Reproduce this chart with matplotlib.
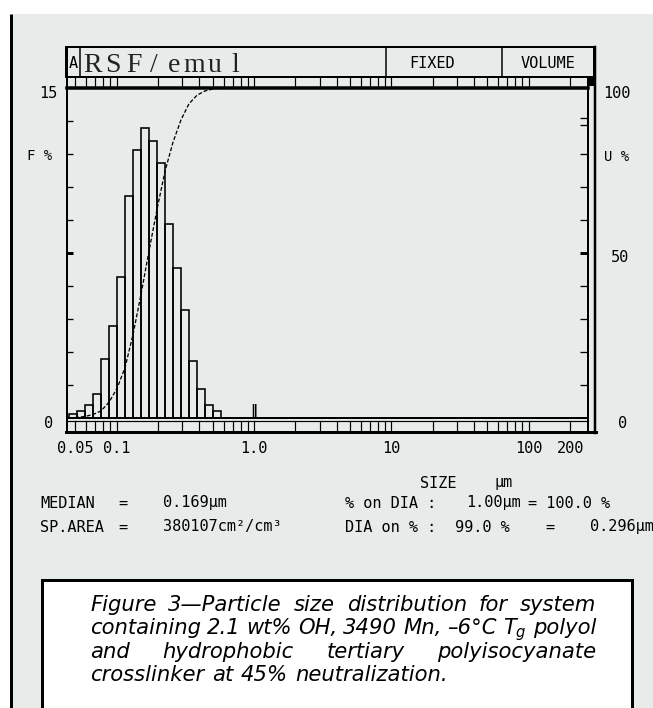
import numpy as np
import matplotlib
matplotlib.use('Agg')
import matplotlib.pyplot as plt
import matplotlib.transforms as mtransforms
from matplotlib.patches import Rectangle

# size channels (um) and volume frequency per channel (%)
size_edges = [0.0452, 0.0516, 0.0590, 0.0675, 0.0771, 0.0882, 0.1008, 0.1153,
              0.1318, 0.1506, 0.1722, 0.1968, 0.2250, 0.2572, 0.2941, 0.3361,
              0.3843, 0.4393, 0.5022, 0.5741]
freq = [0.18, 0.3, 0.6, 1.1, 2.7, 4.2, 6.4, 10.1, 12.2, 13.2, 12.6, 11.6,
        8.8, 6.8, 4.9, 2.6, 1.3, 0.6, 0.3]

x_ticks = [0.05, 0.1, 1.0, 10, 100, 200]
x_ticklabels = ['0.05', '0.1', '1.0', '10', '100', '200']
dia_mark = 1.00

caption = ["Figure 3\u2014Particle size distribution for system",
           "containing 2.1 wt% OH, 3490 Mn, \u20136\u00b0C $T_g$ polyol",
           "and hydrophobic tertiary polyisocyanate",
           "crosslinker at 45% neutralization."]

mono = 'DejaVu Sans Mono'
capfont = 'DejaVu Sans'
plt.rcParams['mathtext.fontset'] = 'custom'
plt.rcParams['mathtext.it'] = 'DejaVu Sans:italic'
plt.rcParams['mathtext.rm'] = 'DejaVu Sans:italic'

page = '#e7ecea'
px = 72 / 100.0  # one pixel in points

fig = plt.figure(figsize=(6.53, 7.08), dpi=100)
fig.patch.set_facecolor('white')

# pixel-coordinate background axes for the page frame and texts
bg = fig.add_axes([0, 0, 1, 1])
bg.set_xlim(0, 653)
bg.set_ylim(708, 0)
bg.axis('off')
bg.add_patch(Rectangle((12, 14), 641, 694, facecolor=page, edgecolor='none'))
bg.plot([11, 11], [14, 708], color='black', lw=3 * px, solid_capstyle='butt')

# header box
bg.add_patch(Rectangle((66, 47), 528, 30, facecolor='none', edgecolor='black', lw=2 * px))
for xd in [80, 386, 502]:
    bg.plot([xd, xd], [47, 77], color='black', lw=1.5 * px)
bg.text(73, 63, 'A', family=mono, fontsize=11, ha='center', va='center')
for i, ch in enumerate('RSF/emul'):
    bg.text(93 + i * 20.3, 72, ch, family='Liberation Serif', fontsize=20,
            ha='center', va='baseline', color='#222222')
bg.text(432, 63, 'FIXED', family=mono, fontsize=11, ha='center', va='center')
bg.text(548, 63, 'VOLUME', family=mono, fontsize=11, ha='center', va='center')

# frame lines around the plot
bg.plot([66.5, 66.5], [47, 432], color='black', lw=2 * px)
bg.plot([595, 595], [47, 433], color='black', lw=2.5 * px)
bg.plot([66, 596], [432, 432], color='black', lw=3 * px)
bg.plot([67, 588], [421, 421], color='black', lw=1.2 * px)
bg.plot([588, 588], [77, 432], color='black', lw=2 * px)
bg.add_patch(Rectangle((587, 77), 8, 9, facecolor='black', edgecolor='none'))

# data axes
ax = fig.add_axes([67 / 653, (708 - 418) / 708, (588 - 67) / 653, (418 - 88) / 708])
ax.set_facecolor('none')
ax.set_xscale('log')
ax.set_xlim(0.0435, 270)
ax.set_ylim(0, 15)
for s in ['left', 'bottom']:
    ax.spines[s].set_linewidth(2 * px)
ax.spines['top'].set_linewidth(3.5 * px)
ax.spines['right'].set_visible(False)
ax.set_xticks([])
ax.set_xticks([], minor=True)
ax.set_yticks(np.arange(1.5, 14, 1.5))
ax.tick_params(axis='y', direction='in', length=6 * px, width=1.3 * px, labelleft=False)
ax.yaxis.get_major_ticks()[4].tick1line.set_markeredgewidth(3 * px)

edges = np.array(size_edges)
ax.bar(edges[:-1], freq, width=np.diff(edges), align='edge', facecolor='none',
       edgecolor='black', lw=1.6 * px, zorder=3)

ax2 = ax.twinx()
ax2.set_ylim(0, 100)
for s in ax2.spines.values():
    s.set_visible(False)
ax2.set_yticks([10, 20, 30, 40, 50, 60, 70, 80, 88.8, 90.9])
ax2.tick_params(axis='y', direction='in', length=8 * px, width=1.3 * px, labelright=False)
ax2.yaxis.get_major_ticks()[4].tick2line.set_markeredgewidth(3 * px)
cum = np.cumsum(freq)
cum = np.concatenate([[0], cum / cum[-1] * 100])
ax2.plot(edges, cum, color='black', lw=1.3 * px, ls=(0, (3, 1.5)), zorder=4)

# strips of log ticks above and below the plot
strip = mtransforms.blended_transform_factory(ax.transData, bg.transData)
for d in [0.01, 0.1, 1, 10, 100]:
    for m in range(1, 10):
        v = m * d
        if 0.046 < v < 265:
            bg.plot([v, v], [77, 87], color='black', lw=1.2 * px, transform=strip, clip_on=False)
            bg.plot([v, v], [421, 432], color='black', lw=1.2 * px, transform=strip, clip_on=False)

ax.text(dia_mark, 0, '\u2016', transform=ax.get_xaxis_transform(), family='DejaVu Sans',
        fontsize=10, ha='center', va='bottom', fontweight='bold')

# axis labels
xt = ax.get_xaxis_transform()
for v, lab in zip(x_ticks, x_ticklabels):
    ax.text(v, -0.091, lab, transform=xt, family=mono, fontsize=11, ha='center', va='center')

yt_l = mtransforms.offset_copy(ax.get_yaxis_transform(), fig=fig, y=-5, units='dots')
ax.text(-0.035, 15, '15', transform=yt_l, family=mono, fontsize=11, ha='center', va='center')
ax.text(-0.035, 0, '0', transform=yt_l, family=mono, fontsize=11, ha='center', va='center')
ax.text(-0.052, 11.9, 'F %', transform=ax.get_yaxis_transform(), family=mono,
        fontsize=10, ha='center', va='center')
yt_r = mtransforms.offset_copy(ax2.get_yaxis_transform(), fig=fig, y=-5, units='dots')
ax2.text(1.055, 100, '100', transform=yt_r, family=mono, fontsize=11, ha='center', va='center')
ax2.text(1.062, 50, '50', transform=yt_r, family=mono, fontsize=11, ha='center', va='center')
ax2.text(1.067, 0, '0', transform=yt_r, family=mono, fontsize=11, ha='center', va='center')
ax2.text(1.055, 79, 'U %', transform=ax2.get_yaxis_transform(), family=mono,
         fontsize=10, ha='center', va='center')

# result texts
bg.text(420, 483, 'SIZE', family=mono, fontsize=11, va='center')
bg.text(494, 483, '\u00b5m', family=mono, fontsize=11, va='center')
rows = [
    (503, [(40, 'MEDIAN'), (118, '='), (163, '0.169\u00b5m'), (345, '% on DIA :'),
           (466, '1.00\u00b5m'), (528, '= 100.0 %')]),
    (527, [(40, 'SP.AREA'), (118, '='), (163, '380107cm\u00b2/cm\u00b3'), (345, 'DIA on % :'),
           (455, '99.0 %'), (545, '='), (590, '0.296\u00b5m')]),
]
for yy, items in rows:
    for xx, s in items:
        bg.text(xx, yy, s, family=mono, fontsize=11, va='center')

# caption box with justified italic text
bg.add_patch(Rectangle((42, 580), 590, 150, facecolor='white', edgecolor='black',
                       lw=3 * px, clip_on=False))
renderer = fig.canvas.get_renderer()


def text_width(s, fs):
    t = bg.text(0, 0, s, family=capfont, style='italic', fontsize=fs)
    w = t.get_window_extent(renderer).width
    t.remove()
    return w


fs = 10 * 355 / text_width(caption[3], 10)
x0, x1 = 90, 596
baselines = [611, 634, 658, 681]
for i, line in enumerate(caption):
    words = line.split(' ')
    widths = [text_width(w, fs) for w in words]
    if i < len(caption) - 1:
        gap = (x1 - x0 - sum(widths)) / (len(words) - 1)
    else:
        gap = text_width(' ', fs) + 1
    xx = x0
    for w, wd in zip(words, widths):
        bg.text(xx, baselines[i], w, family=capfont, style='italic', fontsize=fs,
                va='baseline')
        xx += wd + gap

fig.savefig('out.png', dpi=100)
